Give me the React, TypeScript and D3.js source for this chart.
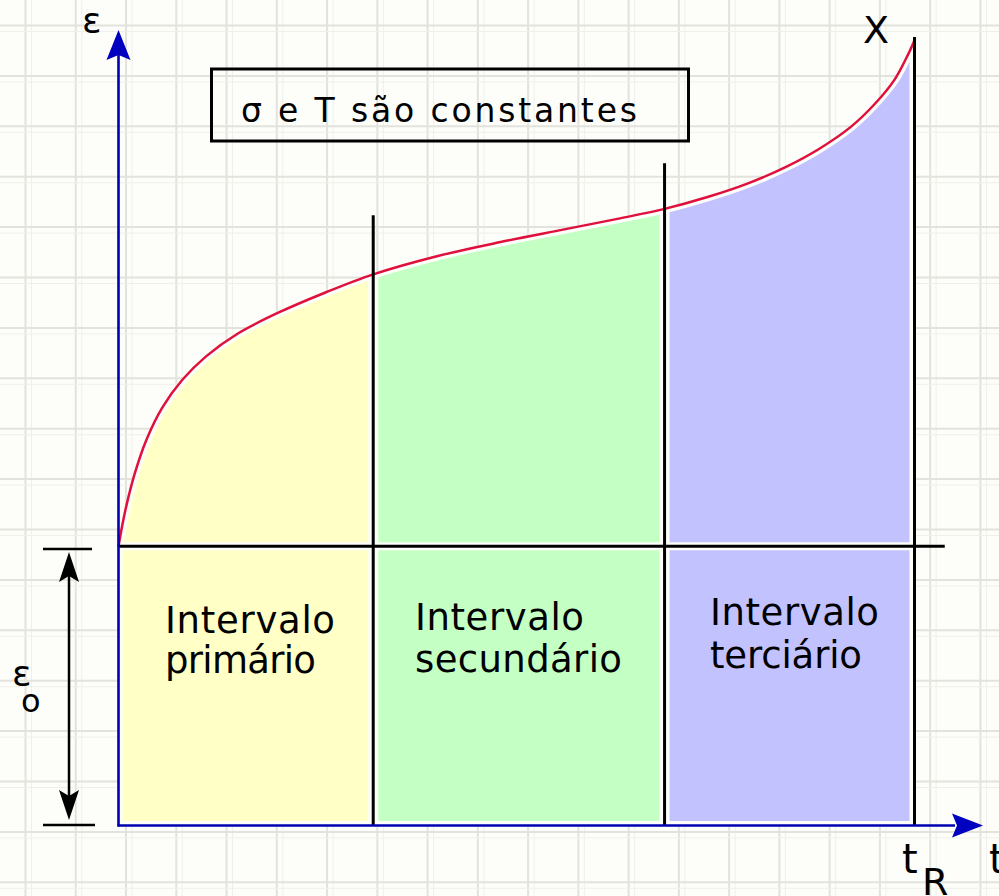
import React from "react";
import * as d3 from "d3";

// ---- data (abstract units: time 0..100 = t_R, strain 0..100) ----
const creepTime = [0, 0.5, 1, 2, 3.5, 5.5, 8, 11, 15, 20, 26, 32, 40, 48, 56, 63, 68.6, 74, 79, 84, 88, 92, 95, 97.5, 99.2, 100];
const creepStrain = [35.4, 38.2, 40.6, 44.5, 48.9, 53.0, 56.5, 59.5, 62.4, 65.0, 67.6, 69.9, 72.2, 74.0, 75.6, 77.0, 78.2, 79.7, 81.4, 83.6, 85.8, 88.6, 91.5, 94.6, 97.8, 99.6];
const phaseBreaks = [0, 32.0, 68.6, 100];
const breakLineTops = [77.4, 84.0, 100];
const phaseLine1 = ["Intervalo", "Intervalo", "Intervalo"];
const phaseLine2 = ["primário", "secundário", "terciário"];
const phaseColors = ["#ffffc6", "#c4ffc4", "#c2c2ff"];
const epsilon0 = 35.4;
const titleText = "σ e T são constantes";

const W = 999;
const H = 896;
const BG = "#fdfdf9";

export default function App() {
  const x = d3.scaleLinear().domain([0, 100]).range([118.5, 914.5]);
  const y = d3.scaleLinear().domain([0, 100]).range([825.5, 37]);
  const pts: [number, number][] = creepTime.map((t, i) => [t, creepStrain[i]]);
  const curve = d3.curveCatmullRom.alpha(0.5);
  const line = d3
    .line<[number, number]>()
    .x((d) => x(d[0]))
    .y((d) => y(d[1]))
    .curve(curve);
  const area = d3
    .area<[number, number]>()
    .x((d) => x(d[0]))
    .y0(y(0))
    .y1((d) => y(d[1]))
    .curve(curve);
  const curvePath = line(pts) || "";
  const areaPath = area(pts) || "";

  const vGrid = d3.range(0, 20).map((k) => 25.5 + 50.26 * k);
  const hGrid = d3.range(0, 18).map((k) => 25.5 + 50.4 * k);

  const labelX = [165, 415, 710];
  const labelY1 = [633, 630, 625];
  const labelY2 = [673, 672, 668];
  const len1 = [170, 169, 169];
  const len2 = [151, 207, 152];

  const ax = x(0);
  const ay = y(0);
  const e0y = y(epsilon0);
  const font = "'DejaVu Sans', Verdana, sans-serif";

  return (
    <svg width={W} height={H} style={{ position: "fixed", left: 0, top: 0 }}>
      <defs>
        <clipPath id="fillClip">
          <path d={areaPath} />
        </clipPath>
      </defs>
      <rect x={0} y={0} width={W} height={H} fill={BG} />
      {/* grid */}
      <g>
        {vGrid.map((gx, i) => (
          <g key={"v" + i}>
            <line x1={gx} x2={gx} y1={0} y2={H} stroke="#e3e3dd" strokeWidth={2} />
            <line x1={gx + 6} x2={gx + 6} y1={0} y2={H} stroke="#f0f0eb" strokeWidth={1} />
          </g>
        ))}
        {hGrid.map((gy, i) => (
          <g key={"h" + i}>
            <line x1={0} x2={W} y1={gy} y2={gy} stroke="#e3e3dd" strokeWidth={2} />
            <line x1={0} x2={W} y1={gy + 6} y2={gy + 6} stroke="#f0f0eb" strokeWidth={1} />
          </g>
        ))}
      </g>
      {/* phase fills */}
      <g clipPath="url(#fillClip)">
        {phaseColors.map((c, i) => (
          <rect
            key={i}
            x={x(phaseBreaks[i])}
            y={0}
            width={x(phaseBreaks[i + 1]) - x(phaseBreaks[i])}
            height={ay}
            fill={c}
          />
        ))}
        {/* halos */}
        <path d={curvePath} fill="none" stroke={BG} strokeWidth={9} />
        {phaseBreaks.slice(1).map((b, i) => (
          <line key={i} x1={x(b)} x2={x(b)} y1={0} y2={H} stroke={BG} strokeWidth={10} />
        ))}
        <line x1={0} x2={W} y1={e0y} y2={e0y} stroke={BG} strokeWidth={8} />
        <line x1={0} x2={W} y1={ay} y2={ay} stroke={BG} strokeWidth={9} />
        <line x1={ax} x2={ax} y1={0} y2={H} stroke={BG} strokeWidth={8} />
      </g>
      {/* curve */}
      <path d={curvePath} fill="none" stroke="#e0103c" strokeWidth={2.5} />
      {/* black lines */}
      {phaseBreaks.slice(1).map((b, i) => (
        <line key={i} x1={x(b)} x2={x(b)} y1={y(breakLineTops[i])} y2={ay} stroke="#000" strokeWidth={3} />
      ))}
      <line x1={ax} x2={x(103.8)} y1={e0y} y2={e0y} stroke="#000" strokeWidth={3} />
      {/* axes */}
      <line x1={ax} x2={ax} y1={ay + 1} y2={55} stroke="#0000b0" strokeWidth={2.6} />
      <path d={`M${ax},30 L${ax + 12},60 L${ax},55 L${ax - 12},60 Z`} fill="#0000c0" />
      <line x1={ax - 1} x2={955} y1={ay} y2={ay} stroke="#0000b0" strokeWidth={2.6} />
      <path d={`M983,${ay} L952,${ay - 12} L957,${ay} L952,${ay + 12} Z`} fill="#0000c0" />
      {/* epsilon0 dimension */}
      <line x1={43} x2={92} y1={549} y2={549} stroke="#000" strokeWidth={2.5} />
      <line x1={43} x2={95} y1={825} y2={825} stroke="#000" strokeWidth={2.5} />
      <line x1={69} x2={69} y1={565} y2={808} stroke="#000" strokeWidth={2.5} />
      <path d="M69,552 L79,582 L69,576 L59,582 Z" fill="#000" />
      <path d="M69,820 L79,790 L69,796 L59,790 Z" fill="#000" />
      {/* title box */}
      <rect x={211.5} y={69} width={477} height={72} fill="none" stroke="#000" strokeWidth={3} />
      <text x={241} y={122} fontFamily={font} fontSize={33} textLength={396} lengthAdjust="spacing" fill="#000">
        {titleText}
      </text>
      {/* phase labels */}
      {phaseLine1.map((s, i) => (
        <g key={i} fontFamily={font} fontSize={37} fill="#000">
          <text x={labelX[i]} y={labelY1[i]} textLength={len1[i]} lengthAdjust="spacing">
            {s}
          </text>
          <text x={labelX[i]} y={labelY2[i]} textLength={len2[i]} lengthAdjust="spacing">
            {phaseLine2[i]}
          </text>
        </g>
      ))}
      {/* axis labels */}
      <text x={82} y={33} fontFamily={font} fontSize={36} fill="#000">ε</text>
      <text x={863} y={43} fontFamily={font} fontSize={38} fill="#000">X</text>
      <text x={902} y={873} fontFamily={font} fontSize={40} fill="#000">t</text>
      <text x={922} y={895} fontFamily={font} fontSize={38} fill="#000">R</text>
      <text x={989} y={873} fontFamily={font} fontSize={40} fill="#000">t</text>
      <text x={12} y={686} fontFamily={font} fontSize={36} fill="#000">ε</text>
      <text x={21} y={712} fontFamily={font} fontSize={32} fill="#000">o</text>
    </svg>
  );
}
